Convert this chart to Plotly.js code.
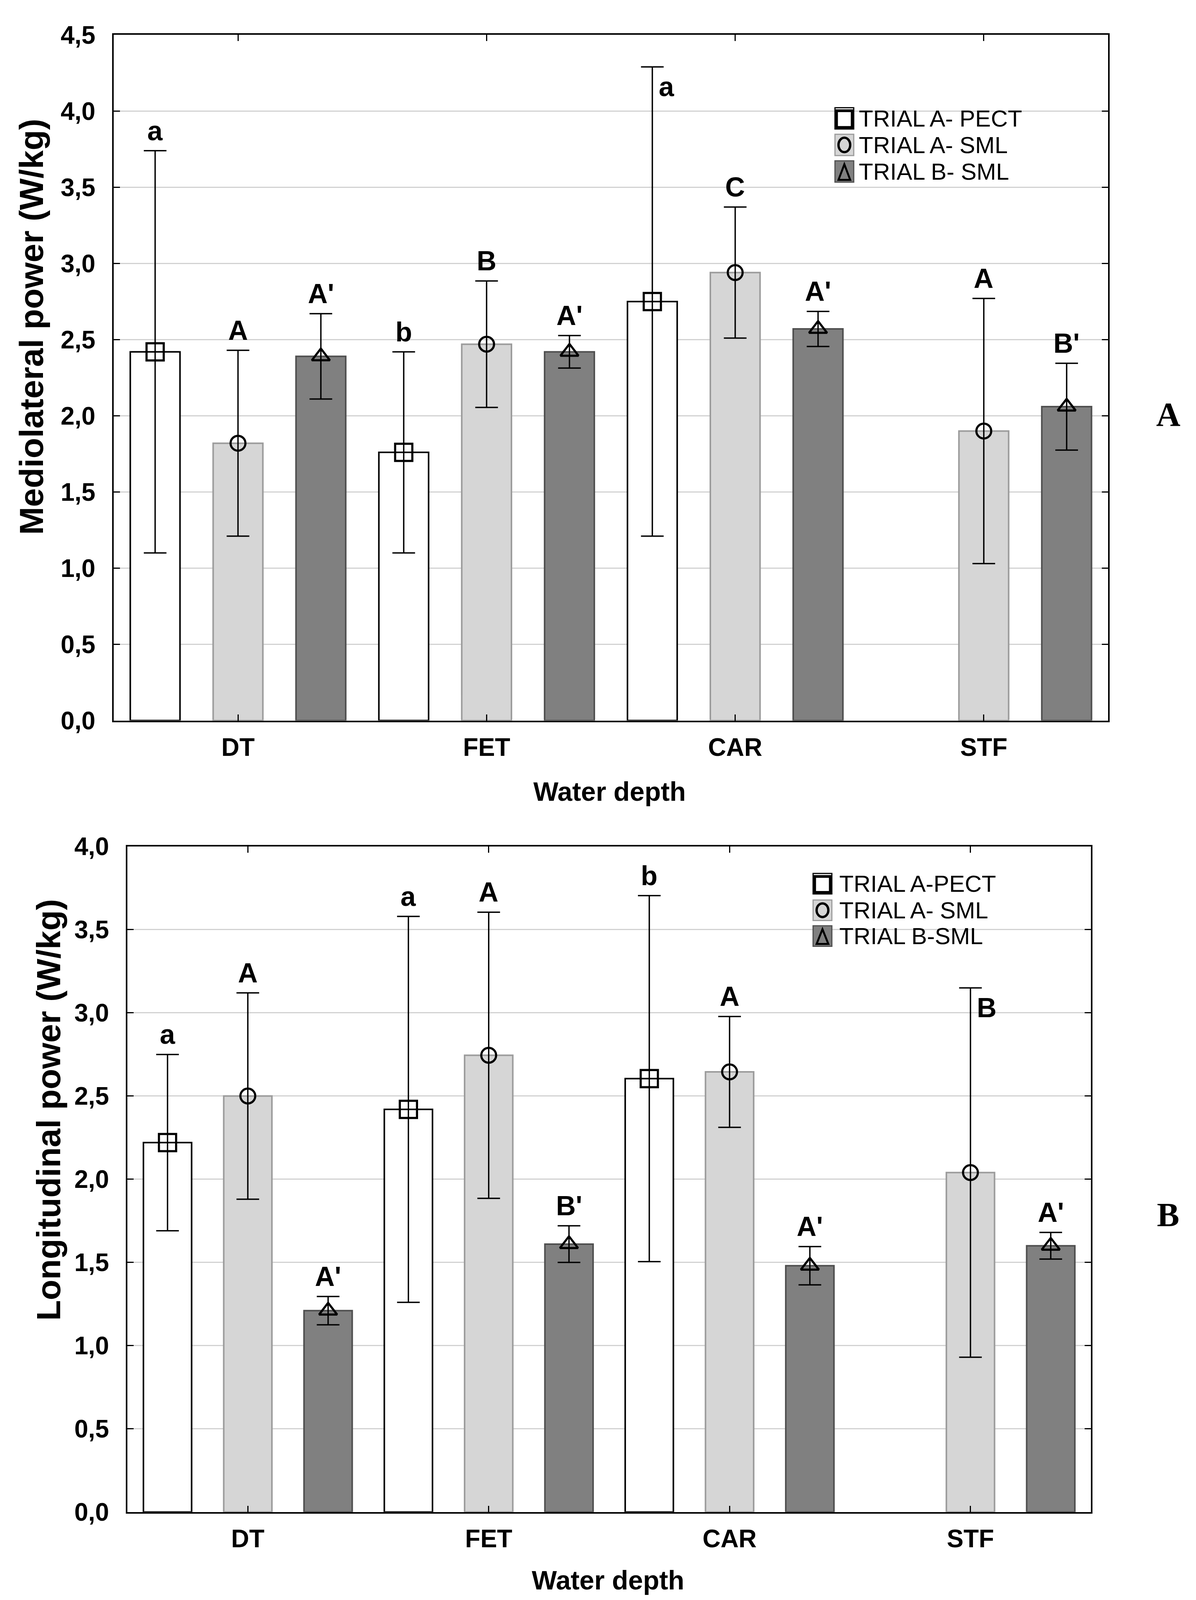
<!DOCTYPE html>
<html>
<head>
<meta charset="utf-8">
<script src="https://cdn.plot.ly/plotly-3.0.1.min.js"></script>
<style>
  html, body { margin: 0; padding: 0; background: #fff; overflow: hidden; }
</style>
</head>
<body>
<div id="chart"></div>
<script>
// categories and series
var cats = ['DT', 'FET', 'CAR', 'STF'];
var namesTop = ['TRIAL A- PECT', 'TRIAL A- SML', 'TRIAL B- SML'];
var namesBottom = ['TRIAL A-PECT', 'TRIAL A- SML', 'TRIAL B-SML'];

// Mediolateral power (W/kg), mean and error
var mlPect = [2.42, 1.76, 2.75, null];
var mlPectErr = [1.32, 0.66, 1.54, null];
var mlSmlA = [1.82, 2.47, 2.94, 1.90];
var mlSmlAErr = [0.61, 0.415, 0.43, 0.87];
var mlSmlB = [2.39, 2.42, 2.57, 2.06];
var mlSmlBErr = [0.28, 0.107, 0.115, 0.285];

// Longitudinal power (W/kg), mean and error
var loPect = [2.22, 2.42, 2.605, null];
var loPectErr = [0.53, 1.16, 1.10, null];
var loSmlA = [2.50, 2.745, 2.645, 2.04];
var loSmlAErr = [0.62, 0.86, 0.333, 1.11];
var loSmlB = [1.21, 1.61, 1.48, 1.60];
var loSmlBErr = [0.085, 0.11, 0.115, 0.08];

// significance letters
var mlLetters = [['a', 'b', 'a', ''], ['A', 'B', 'C', 'A'], ["A'", "A'", "A'", "B'"]];
var loLetters = [['a', 'a', 'b', ''], ['A', 'A', 'A', 'B'], ["A'", "B'", "A'", "A'"]];

// letters drawn beside the error cap instead of above it: [panel, series, category]
var besideCap = [[0, 0, 2], [1, 1, 3]];

// positions below are measured on a 3061x4217 sheet; the figure is fitted to the visible window
var W = 3061, REF_H = 4217;
var H = Math.min(window.innerHeight || REF_H, REF_H);
document.getElementById('chart').style.width = W + 'px';
document.getElementById('chart').style.height = H + 'px';
function X(px) { return px / W; }
function Y(py) { return 1 - py / REF_H; }

var fills = ['#ffffff', '#d6d6d6', '#808080'];
var outlines = ['#000000', '#9c9c9c', '#4f4f4f'];
var symbols = ['square-open', 'circle-open', 'triangle-up-open'];
var symSizes = [44, 38, 40];
var slotOffset = [-1 / 3, 0, 1 / 3];

var data = [];
var annotations = [];
var shapes = [];

function addPanel(p, means, errs, letters, xa, ya) {
  for (var s = 0; s < 3; s++) {
    data.push({
      type: 'bar', x: cats, y: means[s], xaxis: xa, yaxis: ya,
      marker: {color: fills[s], line: {color: outlines[s], width: 4}},
      error_y: {type: 'data', array: errs[s], visible: true, color: '#000', thickness: 3.5, width: 29},
      showlegend: false, hoverinfo: 'skip'
    });
  }
  for (var s = 0; s < 3; s++) {
    data.push({
      type: 'scatter', mode: 'markers', x: cats, y: means[s], xaxis: xa, yaxis: ya,
      marker: {symbol: symbols[s], size: symSizes[s], color: '#000', line: {color: '#000', width: 5.5}},
      showlegend: false, hoverinfo: 'skip'
    });
  }
  for (var s = 0; s < 3; s++) {
    for (var c = 0; c < cats.length; c++) {
      if (!letters[s][c]) continue;
      var beside = besideCap.some(function (b) { return b[0] === p && b[1] === s && b[2] === c; });
      var a = {
        xref: xa, yref: ya, x: c + slotOffset[s], y: means[s][c] + errs[s][c],
        text: letters[s][c], showarrow: false,
        font: {family: 'Liberation Sans, Arial, sans-serif', size: 70, color: '#000', weight: 'bold'}
      };
      if (beside) {
        a.xanchor = 'left'; a.yanchor = 'top'; a.xshift = 14; a.yshift = -10;
      } else {
        a.xanchor = 'center'; a.yanchor = 'bottom'; a.yshift = 10;
      }
      annotations.push(a);
    }
  }
}

addPanel(0, [mlPect, mlSmlA, mlSmlB], [mlPectErr, mlSmlAErr, mlSmlBErr], mlLetters, 'x', 'y');
addPanel(1, [loPect, loSmlA, loSmlB], [loPectErr, loSmlAErr, loSmlBErr], loLetters, 'x2', 'y2');

// legend boxes, drawn by hand so the symbol sits on the swatch
function addLegend(names, left, rowCenters, boxH, textX) {
  for (var s = 0; s < 3; s++) {
    var t = rowCenters[s] - boxH / 2, b = rowCenters[s] + boxH / 2, l = left, r = left + 48;
    shapes.push({type: 'rect', xref: 'paper', yref: 'paper', x0: X(l), x1: X(r), y0: Y(b), y1: Y(t),
      fillcolor: fills[s], line: {color: outlines[s], width: 3}, layer: 'above'});
    if (s === 0) {
      shapes.push({type: 'rect', xref: 'paper', yref: 'paper', x0: X(l + 4), x1: X(r - 4), y0: Y(b - 4), y1: Y(t + 8),
        line: {color: '#000', width: 7}, layer: 'above'});
    } else if (s === 1) {
      shapes.push({type: 'circle', xref: 'paper', yref: 'paper', x0: X(l + 9), x1: X(r - 9), y0: Y(b - 9), y1: Y(t + 9),
        line: {color: '#000', width: 6}, layer: 'above'});
    } else {
      var cx = (l + r) / 2;
      shapes.push({type: 'path', xref: 'paper', yref: 'paper',
        path: 'M' + X(cx) + ',' + Y(t + 9) + ' L' + X(l + 9) + ',' + Y(b - 6) + ' L' + X(r - 9) + ',' + Y(b - 6) + ' Z',
        line: {color: '#000', width: 5}, layer: 'above'});
    }
    annotations.push({xref: 'paper', yref: 'paper', x: X(textX), y: Y(rowCenters[s]), xanchor: 'left', yanchor: 'middle',
      text: names[s], showarrow: false, font: {family: 'Liberation Sans, Arial, sans-serif', size: 60, color: '#000'}});
  }
}
addLegend(namesTop, 2137, [312, 382, 452], 56, 2196);
addLegend(namesBottom, 2081, [2329, 2399, 2467], 54, 2146);

var boldFont = {family: 'Liberation Sans, Arial, sans-serif', color: '#000', weight: 'bold'};
function f(size) { return Object.assign({}, boldFont, {size: size}); }
function label(px, py, text, font, angle) {
  return {xref: 'paper', yref: 'paper', x: X(px), y: Y(py), xanchor: 'center', yanchor: 'middle',
    text: text, textangle: angle || 0, showarrow: false, font: font};
}
var serif = {family: 'Liberation Serif, Times New Roman, serif', size: 86, color: '#000', weight: 'bold'};

// axis titles and panel letters
annotations.push(
  label(80, 861, 'Mediolateral power (W/kg)', f(86), -90),
  label(124, 2925, 'Longitudinal power (W/kg)', f(86), -90),
  label(1560, 2086, 'Water depth', f(68)),
  label(1556, 4165, 'Water depth', f(68)),
  label(2990, 1092, 'A', serif),
  label(2989, 3202, 'B', serif)
);

function xAxis(dom, anchor) {
  return {
    domain: dom, anchor: anchor, type: 'category', range: [-0.5, 3.5],
    showline: true, linecolor: '#000', linewidth: 4, mirror: 'ticks',
    ticks: 'inside', ticklen: 16, tickwidth: 3, tickcolor: '#000',
    tickfont: f(64), ticklabelstandoff: 10, showgrid: false, zeroline: false, fixedrange: true
  };
}
function yAxis(dom, anchor, top) {
  return {
    domain: dom, anchor: anchor, range: [0, top], dtick: 0.5, tick0: 0, tickformat: '.1f',
    showline: true, linecolor: '#000', linewidth: 4, mirror: 'ticks',
    ticks: 'inside', ticklen: 16, tickwidth: 3, tickcolor: '#000',
    tickfont: f(64), ticklabelstandoff: 30,
    showgrid: true, gridcolor: '#d2d2d2', gridwidth: 3, zeroline: false, fixedrange: true
  };
}

var layout = {
  width: W, height: H, autosize: false,
  margin: {l: 0, r: 0, t: 0, b: 0, pad: 0},
  paper_bgcolor: '#fff', plot_bgcolor: '#fff',
  separators: ', ',
  barmode: 'group', bargap: 0, bargroupgap: 0.4,
  scattermode: 'group', scattergap: 0,
  showlegend: false,
  xaxis: xAxis([X(291), X(2836)], 'y'),
  yaxis: yAxis([Y(1899), Y(92)], 'x', 4.5),
  xaxis2: xAxis([X(326), X(2792)], 'y2'),
  yaxis2: yAxis([Y(3985), Y(2231)], 'x2', 4.0),
  annotations: annotations,
  shapes: shapes
};

Plotly.newPlot('chart', data, layout, {displayModeBar: false, staticPlot: true});
</script>
</body>
</html>
